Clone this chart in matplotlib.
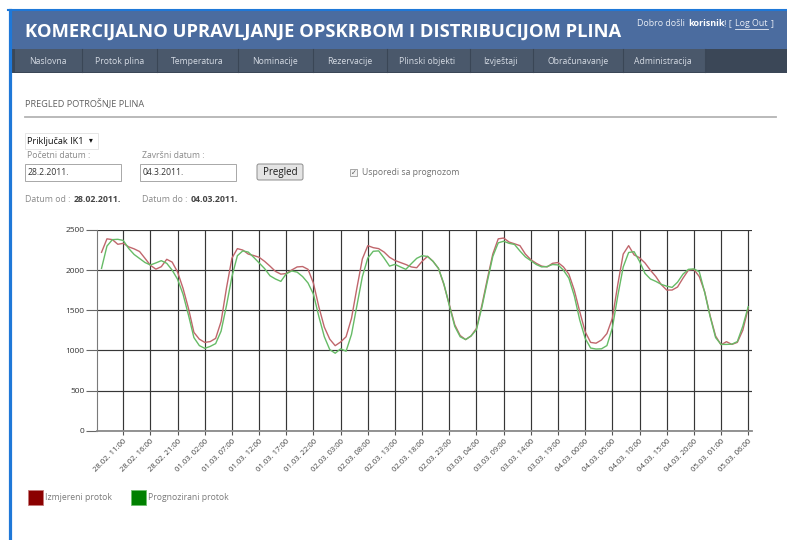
import numpy as np
import pandas as pd
import matplotlib
matplotlib.use('Agg')
import matplotlib.pyplot as plt
from matplotlib.patches import Rectangle, FancyBboxPatch

plt.rcParams['font.family'] = ['Open Sans', 'DejaVu Sans']

# Hourly flow values, 28.02.2011 07:00 .. 05.03.2011 06:00
hours = pd.date_range('2011-02-28 07:00', periods=120, freq='h')

izmjereni = [
    2222, 2390, 2380, 2322, 2334, 2290, 2265, 2232, 2147, 2060,
    2012, 2043, 2135, 2100, 1975, 1773, 1524, 1225, 1140, 1100,
    1110, 1150, 1360, 1780, 2150, 2268, 2250, 2200, 2182, 2160,
    2110, 2050, 1985, 1950, 1958, 2002, 2040, 2045, 2010, 1836,
    1540, 1290, 1140, 1059, 1105, 1170, 1400, 1780, 2140, 2305,
    2280, 2268, 2225, 2160, 2120, 2095, 2070, 2040, 2030, 2110,
    2172, 2110, 2022, 1820, 1570, 1320, 1185, 1135, 1180, 1275,
    1565, 1890, 2200, 2390, 2400, 2350, 2328, 2305, 2200, 2130,
    2085, 2050, 2040, 2085, 2095, 2040, 1950, 1750, 1483, 1233,
    1100, 1090, 1130, 1210, 1400, 1820, 2200, 2305, 2190, 2155,
    2090, 2000, 1920, 1820, 1752, 1752, 1790, 1900, 2000, 2010,
    1920, 1730, 1430, 1180, 1070, 1109, 1075, 1100, 1250, 1524,
]

prognozirani = [
    2022, 2300, 2380, 2384, 2370, 2270, 2195, 2145, 2095, 2064,
    2090, 2118, 2085, 2000, 1885, 1700, 1440, 1160, 1060, 1026,
    1050, 1085, 1240, 1560, 1920, 2180, 2240, 2225, 2160, 2090,
    2020, 1930, 1890, 1860, 1955, 1990, 1975, 1920, 1840, 1700,
    1420, 1170, 1010, 965, 1020, 990, 1200, 1560, 1920, 2150,
    2235, 2240, 2150, 2050, 2072, 2040, 2010, 2080, 2147, 2180,
    2170, 2110, 2022, 1830, 1560, 1300, 1170, 1135, 1180, 1260,
    1540, 1860, 2170, 2340, 2360, 2334, 2320, 2238, 2165, 2118,
    2070, 2040, 2045, 2070, 2065, 2000, 1900, 1680, 1379, 1150,
    1030, 1017, 1020, 1060, 1280, 1680, 2040, 2220, 2230, 2110,
    1960, 1890, 1860, 1823, 1800, 1785, 1850, 1950, 2010, 2015,
    1980, 1720, 1420, 1160, 1075, 1075, 1078, 1110, 1300, 1544,
]

tick_times = pd.date_range('2011-02-28 11:00', '2011-03-05 06:00', freq='5h')
tick_labels = [
    '28.02. 11:00', '28.02. 16:00', '28.02. 21:00', '01.03. 02:00',
    '01.03. 07:00', '01.03. 12:00', '01.03. 17:00', '01.03. 22:00',
    '02.03. 03:00', '02.03. 08:00', '02.03. 13:00', '02.03. 18:00',
    '02.03. 23:00', '03.03. 04:00', '03.03. 09:00', '03.03. 14:00',
    '03.03. 19:00', '04.03. 00:00', '04.03. 05:00', '04.03. 10:00',
    '04.03. 15:00', '04.03. 20:00', '05.03. 01:00', '05.03. 06:00',
]
y_ticks = [0, 500, 1000, 1500, 2000, 2500]

menu_items = ['Naslovna', 'Protok plina', 'Temperatura', 'Nominacije', 'Rezervacije',
              'Plinski objekti', 'Izvještaji', 'Obračunavanje', 'Administracija']

W, H = 787, 540
fig = plt.figure(figsize=(W / 100, H / 100), dpi=100)
fig.patch.set_facecolor('white')
renderer = fig.canvas.get_renderer()

# page layer in pixel coordinates (y grows downwards)
bg = fig.add_axes([0, 0, 1, 1])
bg.set_xlim(0, W)
bg.set_ylim(H, 0)
bg.axis('off')


# write several text pieces one after another on the same line
def text_run(x, y, pieces, gap=3, **kw):
    for s, color, weight in pieces:
        t = bg.text(x, y, s.strip(), color=color, fontweight=weight, va='center', **kw)
        x += t.get_window_extent(renderer).width
        if s.endswith(' '):
            x += gap
    return x


# outer blue frame
bg.plot([8, W], [10, 10], color='#1f78d8', lw=1.5)
bg.plot([9.5, 9.5], [10, H], color='#1f78d8', lw=2.3)

# header
bg.add_patch(Rectangle((10, 11), W - 10, 38, color='#4b6c9f', lw=0))
bg.text(25, 32, 'KOMERCIJALNO UPRAVLJANJE OPSKRBOM I DISTRIBUCIJOM PLINA',
        color='white', fontsize=13.2, fontweight='bold', va='center', ha='left')
x_end = text_run(637, 24, [('Dobro došli ', '#e8edf5', 'normal'),
                           ('korisnik', 'white', 'bold'),
                           ('! [ ', '#e8edf5', 'normal')], fontsize=6.4)
x_lo = text_run(x_end, 24, [('Log Out ', '#e8edf5', 'normal')], fontsize=6.4)
bg.plot([x_end, x_lo - 3], [29, 29], color='#e8edf5', lw=0.6)
text_run(x_lo, 24, [(']', '#e8edf5', 'normal')], fontsize=6.4)

# menu bar
bg.add_patch(Rectangle((10, 49), W - 10, 24, color='#3b4757', lw=0))
bg.add_patch(Rectangle((15, 49), 690, 23, color='#4a586b', lw=0))
separators = [82, 157, 238, 313, 387, 470, 533, 623, 705]
for sx in separators:
    bg.plot([sx, sx], [49, 72], color='#3a4656', lw=0.8)
menu_x = [48, 120, 197, 275, 350, 427, 500, 578, 663]
for mx, name in zip(menu_x, menu_items):
    bg.text(mx, 61, name, color='#d5dbe4', fontsize=6.2, ha='center', va='center')

# section title
bg.text(25, 103, 'PREGLED POTROŠNJE PLINA', color='#606060', fontsize=6.6, va='center')
bg.plot([25, 776], [117, 117], color='#b4b4b4', lw=1.3)

# form
bg.add_patch(Rectangle((25, 133), 73, 16, facecolor='white', edgecolor='#e2e2e2', lw=0.6))
bg.text(27, 141, 'Priključak IK1', color='#111111', fontsize=6.6, va='center')
bg.text(91, 141, '▾', color='#111111', fontsize=5.5, va='center', ha='center')
bg.text(27, 156, 'Početni datum :', color='#8a8a8a', fontsize=6.2, va='center')
bg.text(142, 156, 'Završni datum :', color='#8a8a8a', fontsize=6.2, va='center')
bg.add_patch(Rectangle((25, 164), 96, 17, facecolor='white', edgecolor='#a8a8a8', lw=0.7))
bg.text(28, 172.5, '28.2.2011.', color='#333333', fontsize=6.2, va='center')
bg.add_patch(Rectangle((140, 164), 96, 17, facecolor='white', edgecolor='#a8a8a8', lw=0.7))
bg.text(143, 172.5, '04.3.2011.', color='#333333', fontsize=6.2, va='center')
bg.add_patch(FancyBboxPatch((257, 164), 46, 16, boxstyle='round,pad=0,rounding_size=2',
                            facecolor='#e4e4e4', edgecolor='#8c8c8c', lw=0.7))
bg.text(280, 172, 'Pregled', color='#1a1a1a', fontsize=7, ha='center', va='center')
bg.add_patch(Rectangle((350, 169), 7, 7, facecolor='#f2f2f2', edgecolor='#9a9a9a', lw=0.6))
bg.text(353.5, 172.5, '✓', color='#555555', fontsize=5, ha='center', va='center',
        family=['DejaVu Sans'])
bg.text(362, 172.5, 'Usporedi sa prognozom', color='#707070', fontsize=6.2, va='center')

text_run(25, 200, [('Datum od : ', '#8a8a8a', 'normal'),
                   ('28.02.2011.', '#444444', 'bold')], fontsize=6.3)
text_run(142, 200, [('Datum do : ', '#8a8a8a', 'normal'),
                    ('04.03.2011.', '#444444', 'bold')], fontsize=6.3)

# legend
bg.add_patch(Rectangle((28, 490), 15, 15, facecolor='#8b0000', edgecolor='#c47a7a', lw=0.6))
bg.text(45, 497.5, 'Izmjereni protok', color='#7a7a7a', fontsize=6.2, va='center')
bg.add_patch(Rectangle((131, 490), 15, 15, facecolor='#008000', edgecolor='#6cbf6c', lw=0.6))
bg.text(148, 497.5, 'Prognozirani protok', color='#7a7a7a', fontsize=6.2, va='center')

# chart
left, right, top, bottom = 97, 752, 230, 430.7
ax = fig.add_axes([left / W, 1 - bottom / H, (right - left) / W, (bottom - top) / H])
ax.set_facecolor('none')

ax.plot(hours, izmjereni, color='#c0666c', lw=1.0)
ax.plot(hours, prognozirani, color='#66bb66', lw=1.0)

ax.set_xlim(pd.Timestamp('2011-02-28 06:10'), pd.Timestamp('2011-03-05 06:42'))
ax.set_ylim(0, 2500)
ax.set_xticks(tick_times)
ax.set_xticklabels(tick_labels, rotation=45, ha='right', rotation_mode='anchor',
                   fontsize=5.6, color='#444444')
ax.set_yticks(y_ticks)
ax.set_yticklabels([str(v) for v in y_ticks], fontsize=6, color='#333333')
ax.grid(True, color='#363636', lw=0.85)
ax.set_axisbelow(True)
for side in ['top', 'right']:
    ax.spines[side].set_visible(False)
ax.spines['left'].set_color('#7a7a7a')
ax.spines['bottom'].set_color('#8a8a8a')
ax.spines['bottom'].set_linewidth(1.3)
ax.tick_params(axis='y', length=8, color='#666666', pad=1)
ax.tick_params(axis='x', length=3, color='#555555', pad=2)

fig.savefig('out.png', dpi=100)
